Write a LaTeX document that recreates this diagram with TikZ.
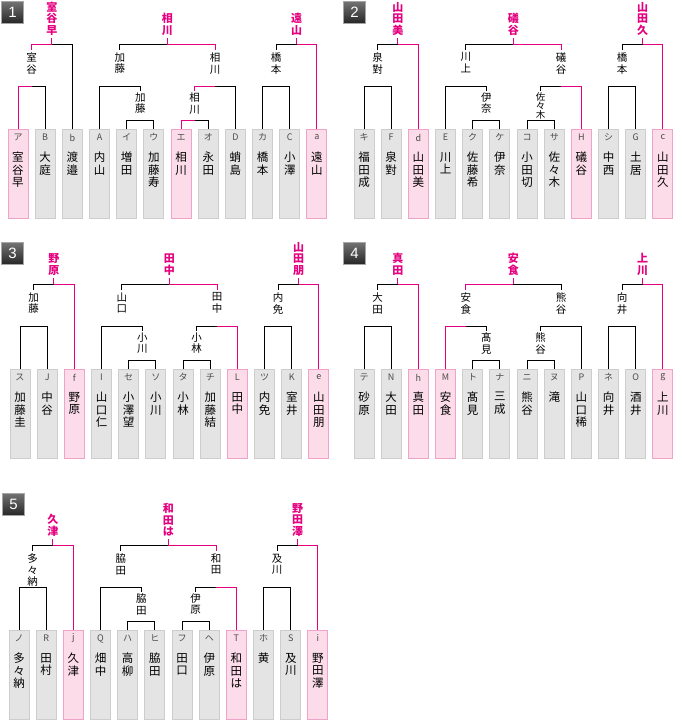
\documentclass[tikz,border=0pt]{standalone}
\usepackage{fontspec}
\setmainfont{Noto Sans CJK JP}
\newfontfamily\numfont{Liberation Sans}
\usetikzlibrary{calc}
\definecolor{pk}{HTML}{E5007F}
\definecolor{pkfill}{HTML}{FDDCEA}
\definecolor{pkline}{HTML}{F0A3C8}
\definecolor{gyfill}{HTML}{E4E4E4}
\definecolor{gyline}{HTML}{CDCDCD}
\tikzset{
  gbox/.style={draw=gyline, fill=gyfill, minimum width=20pt, minimum height=89pt, inner sep=0pt, anchor=north, line width=1pt},
  pbox/.style={gbox, draw=pkline, fill=pkfill},
  lett/.style={font=\fontsize{9}{9}\selectfont, text=black!70, inner sep=0pt},
  nm/.style={font=\fontsize{11.5}{12.5}\selectfont, align=center, inner sep=0pt, anchor=north},
  lab/.style={font=\fontsize{10.5}{11.5}\selectfont, align=center, inner sep=0pt, anchor=north},
  labs/.style={font=\fontsize{9.5}{9}\selectfont, align=center, inner sep=0pt, anchor=north},
  toplab/.style={font=\fontsize{11}{11.5}\selectfont\bfseries, text=pk, align=center, inner sep=0pt, anchor=south},
  bk/.style={draw=black, line width=1pt},
  pl/.style={draw=pk, line width=1pt},
  badge/.style={draw=black!35, top color=black!55, bottom color=black!85, line width=1pt, minimum width=22pt, minimum height=22pt, inner sep=0pt, anchor=north west, text=white, font=\numfont\fontsize{15}{15}\selectfont}
}
% box: name, index, style, letter, text
\newcommand\BX[5]{%
  \node[#3] (#1) at ({18+27.18*#2},129) {};
  \node[lett] (#1l) at ({18+27.18*#2},137.5) {#4};
  \node[nm] (#1n) at ({18+27.18*#2},152) {#5};
}
% match: left attach, right attach, level y, left style, right style, name
\newcommand\MT[6]{%
  \path (#1 |- 0,#3) coordinate (#6L) (#2 |- 0,#3) coordinate (#6R);
  \coordinate (#6) at ($(#6L)!0.5!(#6R)$);
  \draw[#4] (#1) -- (#6L) -- (#6);
  \draw[#5] (#6) -- (#6R) -- (#2);
}
\newcommand\LbB[2]{\node[lab] (#1t) at (#1 |- 0,52.5) {#2}; \coordinate (#1a) at (#1 |- 0,50);}
\newcommand\LbC[2]{\node[lab] (#1t) at (#1 |- 0,92.5) {#2}; \coordinate (#1a) at (#1 |- 0,90.5);}
\newcommand\LbCs[2]{\node[labs] (#1t) at (#1 |- 0,92) {#2}; \coordinate (#1a) at (#1 |- 0,90.5);}
\newcommand\LbT[2]{\draw[pl] (#1) -- (#1 |- 0,37.5); \node[toplab] (#1t) at (#1 |- 0,35.5) {#2};}
\begin{document}
\begin{tikzpicture}[x=1pt,y=-1pt]
\useasboundingbox (0,0) rectangle (681,720);
\fill[white] (0,0) rectangle (681,720);
% badges
\node[badge] (k1) at (1,1) {1};
\node[badge] (k2) at (343,1) {2};
\node[badge] (k3) at (1,242) {3};
\node[badge] (k4) at (343,242) {4};
\node[badge] (k5) at (2,493) {5};
% ---------------- bracket 1
\begin{scope}[shift={(0,0)}]
\BX{A0}{0}{pbox}{ア}{室\\谷\\早}
\BX{A1}{1}{gbox}{B}{大\\庭}
\BX{A2}{2}{gbox}{b}{渡\\邉}
\BX{A3}{3}{gbox}{A}{内\\山}
\BX{A4}{4}{gbox}{イ}{増\\田}
\BX{A5}{5}{gbox}{ウ}{加\\藤\\寿}
\BX{A6}{6}{pbox}{エ}{相\\川}
\BX{A7}{7}{gbox}{オ}{永\\田}
\BX{A8}{8}{gbox}{D}{蛸\\島}
\BX{A9}{9}{gbox}{カ}{橋\\本}
\BX{A10}{10}{gbox}{C}{小\\澤}
\BX{A11}{11}{pbox}{a}{遠\\山}
\MT{A0.north}{A1.north}{86}{pl}{bk}{Am1}
\LbB{Am1}{室\\谷}
\MT{Am1a}{A2.north}{44}{pl}{bk}{Am2}
\LbT{Am2}{室\\谷\\早}
\MT{A4.north}{A5.north}{120}{bk}{bk}{Am3}
\LbC{Am3}{加\\藤}
\MT{A3.north}{Am3a}{86}{bk}{bk}{Am4}
\LbB{Am4}{加\\藤}
\MT{A6.north}{A7.north}{120}{pl}{bk}{Am5}
\LbC{Am5}{相\\川}
\MT{Am5a}{A8.north}{86}{pl}{bk}{Am6}
\LbB{Am6}{相\\川}
\MT{Am4a}{Am6a}{44}{bk}{pl}{Am7}
\LbT{Am7}{相\\川}
\MT{A9.north}{A10.north}{86}{bk}{bk}{Am8}
\LbB{Am8}{橋\\本}
\MT{Am8a}{A11.north}{44}{bk}{pl}{Am9}
\LbT{Am9}{遠\\山}
\end{scope}
% ---------------- bracket 2
\begin{scope}[shift={(346,0)}]
\BX{B0}{0}{gbox}{キ}{福\\田\\成}
\BX{B1}{1}{gbox}{F}{泉\\對}
\BX{B2}{2}{pbox}{d}{山\\田\\美}
\BX{B3}{3}{gbox}{E}{川\\上}
\BX{B4}{4}{gbox}{ク}{佐\\藤\\希}
\BX{B5}{5}{gbox}{ケ}{伊\\奈}
\BX{B6}{6}{gbox}{コ}{小\\田\\切}
\BX{B7}{7}{gbox}{サ}{佐\\々\\木}
\BX{B8}{8}{pbox}{H}{礒\\谷}
\BX{B9}{9}{gbox}{シ}{中\\西}
\BX{B10}{10}{gbox}{G}{土\\居}
\BX{B11}{11}{pbox}{c}{山\\田\\久}
\MT{B0.north}{B1.north}{86}{bk}{bk}{Bm1}
\LbB{Bm1}{泉\\對}
\MT{Bm1a}{B2.north}{44}{bk}{pl}{Bm2}
\LbT{Bm2}{山\\田\\美}
\MT{B4.north}{B5.north}{120}{bk}{bk}{Bm3}
\LbC{Bm3}{伊\\奈}
\MT{B3.north}{Bm3a}{86}{bk}{bk}{Bm4}
\LbB{Bm4}{川\\上}
\MT{B6.north}{B7.north}{120}{bk}{bk}{Bm5}
\LbCs{Bm5}{佐\\々\\木}
\MT{Bm5a}{B8.north}{86}{bk}{pl}{Bm6}
\LbB{Bm6}{礒\\谷}
\MT{Bm4a}{Bm6a}{44}{bk}{pl}{Bm7}
\LbT{Bm7}{礒\\谷}
\MT{B9.north}{B10.north}{86}{bk}{bk}{Bm8}
\LbB{Bm8}{橋\\本}
\MT{Bm8a}{B11.north}{44}{bk}{pl}{Bm9}
\LbT{Bm9}{山\\田\\久}
\end{scope}
% ---------------- bracket 3
\begin{scope}[shift={(2,240)}]
\BX{C0}{0}{gbox}{ス}{加\\藤\\圭}
\BX{C1}{1}{gbox}{J}{中\\谷}
\BX{C2}{2}{pbox}{f}{野\\原}
\BX{C3}{3}{gbox}{I}{山\\口\\仁}
\BX{C4}{4}{gbox}{セ}{小\\澤\\望}
\BX{C5}{5}{gbox}{ソ}{小\\川}
\BX{C6}{6}{gbox}{タ}{小\\林}
\BX{C7}{7}{gbox}{チ}{加\\藤\\結}
\BX{C8}{8}{pbox}{L}{田\\中}
\BX{C9}{9}{gbox}{ツ}{内\\免}
\BX{C10}{10}{gbox}{K}{室\\井}
\BX{C11}{11}{pbox}{e}{山\\田\\朋}
\MT{C0.north}{C1.north}{86}{bk}{bk}{Cm1}
\LbB{Cm1}{加\\藤}
\MT{Cm1a}{C2.north}{44}{bk}{pl}{Cm2}
\LbT{Cm2}{野\\原}
\MT{C4.north}{C5.north}{120}{bk}{bk}{Cm3}
\LbC{Cm3}{小\\川}
\MT{C3.north}{Cm3a}{86}{bk}{bk}{Cm4}
\LbB{Cm4}{山\\口}
\MT{C6.north}{C7.north}{120}{bk}{bk}{Cm5}
\LbC{Cm5}{小\\林}
\MT{Cm5a}{C8.north}{86}{bk}{pl}{Cm6}
\LbB{Cm6}{田\\中}
\MT{Cm4a}{Cm6a}{44}{bk}{pl}{Cm7}
\LbT{Cm7}{田\\中}
\MT{C9.north}{C10.north}{86}{bk}{bk}{Cm8}
\LbB{Cm8}{内\\免}
\MT{Cm8a}{C11.north}{44}{bk}{pl}{Cm9}
\LbT{Cm9}{山\\田\\朋}
\end{scope}
% ---------------- bracket 4
\begin{scope}[shift={(346,240)}]
\BX{D0}{0}{gbox}{テ}{砂\\原}
\BX{D1}{1}{gbox}{N}{大\\田}
\BX{D2}{2}{pbox}{h}{真\\田}
\BX{D3}{3}{pbox}{M}{安\\食}
\BX{D4}{4}{gbox}{ト}{髙\\見}
\BX{D5}{5}{gbox}{ナ}{三\\成}
\BX{D6}{6}{gbox}{ニ}{熊\\谷}
\BX{D7}{7}{gbox}{ヌ}{滝}
\BX{D8}{8}{gbox}{P}{山\\口\\稀}
\BX{D9}{9}{gbox}{ネ}{向\\井}
\BX{D10}{10}{gbox}{O}{酒\\井}
\BX{D11}{11}{pbox}{g}{上\\川}
\MT{D0.north}{D1.north}{86}{bk}{bk}{Dm1}
\LbB{Dm1}{大\\田}
\MT{Dm1a}{D2.north}{44}{bk}{pl}{Dm2}
\LbT{Dm2}{真\\田}
\MT{D4.north}{D5.north}{120}{bk}{bk}{Dm3}
\LbC{Dm3}{髙\\見}
\MT{D3.north}{Dm3a}{86}{pl}{bk}{Dm4}
\LbB{Dm4}{安\\食}
\MT{D6.north}{D7.north}{120}{bk}{bk}{Dm5}
\LbC{Dm5}{熊\\谷}
\MT{Dm5a}{D8.north}{86}{bk}{bk}{Dm6}
\LbB{Dm6}{熊\\谷}
\MT{Dm4a}{Dm6a}{44}{pl}{bk}{Dm7}
\LbT{Dm7}{安\\食}
\MT{D9.north}{D10.north}{86}{bk}{bk}{Dm8}
\LbB{Dm8}{向\\井}
\MT{Dm8a}{D11.north}{44}{bk}{pl}{Dm9}
\LbT{Dm9}{上\\川}
\end{scope}
% ---------------- bracket 5
\begin{scope}[shift={(1,501)}]
\BX{E0}{0}{gbox}{ノ}{多\\々\\納}
\BX{E1}{1}{gbox}{R}{田\\村}
\BX{E2}{2}{pbox}{j}{久\\津}
\BX{E3}{3}{gbox}{Q}{畑\\中}
\BX{E4}{4}{gbox}{ハ}{高\\柳}
\BX{E5}{5}{gbox}{ヒ}{脇\\田}
\BX{E6}{6}{gbox}{フ}{田\\口}
\BX{E7}{7}{gbox}{ヘ}{伊\\原}
\BX{E8}{8}{pbox}{T}{和\\田\\は}
\BX{E9}{9}{gbox}{ホ}{黄}
\BX{E10}{10}{gbox}{S}{及\\川}
\BX{E11}{11}{pbox}{i}{野\\田\\澤}
\MT{E0.north}{E1.north}{86}{bk}{bk}{Em1}
\LbB{Em1}{多\\々\\納}
\MT{Em1a}{E2.north}{44}{bk}{pl}{Em2}
\LbT{Em2}{久\\津}
\MT{E4.north}{E5.north}{120}{bk}{bk}{Em3}
\LbC{Em3}{脇\\田}
\MT{E3.north}{Em3a}{86}{bk}{bk}{Em4}
\LbB{Em4}{脇\\田}
\MT{E6.north}{E7.north}{120}{bk}{bk}{Em5}
\LbC{Em5}{伊\\原}
\MT{Em5a}{E8.north}{86}{bk}{pl}{Em6}
\LbB{Em6}{和\\田}
\MT{Em4a}{Em6a}{44}{bk}{pl}{Em7}
\LbT{Em7}{和\\田\\は}
\MT{E9.north}{E10.north}{86}{bk}{bk}{Em8}
\LbB{Em8}{及\\川}
\MT{Em8a}{E11.north}{44}{bk}{pl}{Em9}
\LbT{Em9}{野\\田\\澤}
\end{scope}
\end{tikzpicture}
\end{document}
